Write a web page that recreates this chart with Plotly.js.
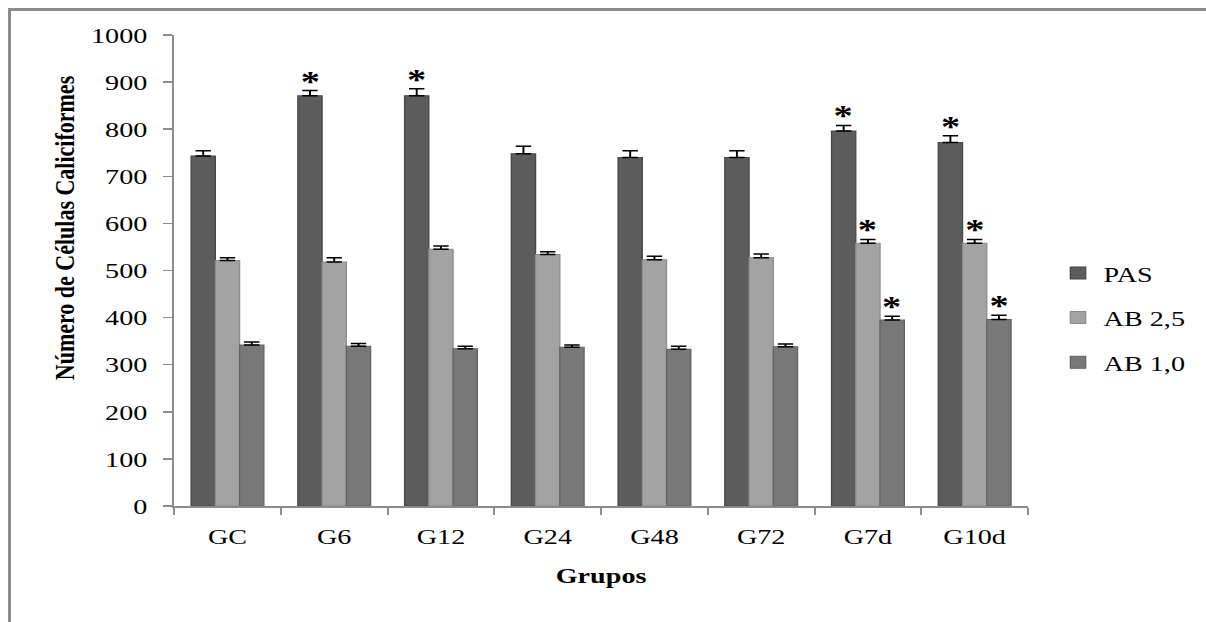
<!DOCTYPE html>
<html>
<head>
<meta charset="utf-8">
<script src="https://cdn.plot.ly/plotly-3.0.1.min.js"></script>
<style>
  html, body { margin: 0; padding: 0; background: #ffffff; overflow: hidden; }
  #wrap { position: relative; width: 1206px; height: 622px; overflow: hidden; background: #ffffff; }
  #chart { position: absolute; left: 0; top: 0; width: 942px; height: 622px; transform: scaleX(1.28025); transform-origin: 0 0; }
  #frame { position: absolute; left: 8px; top: 8px; width: 1200px; height: 620px; border-top: 3px solid #8c8c8c; border-left: 3px solid #8c8c8c; pointer-events: none; }
</style>
</head>
<body>
<div id="wrap">
  <div id="chart"></div>
  <div id="frame"></div>
</div>
<script>
// ---- data ----
const groups   = ["GC", "G6", "G12", "G24", "G48", "G72", "G7d", "G10d"];
const seriesNames = ["PAS", "AB 2,5", "AB 1,0"];
const pas      = [743, 871, 871, 748, 740, 740, 796, 772];
const pasErr   = [11, 11, 15, 16, 14, 14, 12, 14];
const ab25     = [521, 518, 545, 534, 523, 527, 558, 558];
const ab25Err  = [6, 9, 7, 6, 7, 8, 8, 8];
const ab10     = [342, 339, 334, 337, 333, 338, 395, 396];
const ab10Err  = [6, 6, 5, 5, 6, 6, 8, 9];
const pasSig   = [false, true, true, false, false, false, true, true];
const ab25Sig  = [false, false, false, false, false, false, true, true];
const ab10Sig  = [false, false, false, false, false, false, true, true];
const yTicks   = [0, 100, 200, 300, 400, 500, 600, 700, 800, 900, 1000];

const FONT = "Liberation Serif, Times New Roman, serif";
const colors = ["#5c5c5c", "#a3a3a3", "#787878"];
const lineColors = ["#474747", "#8c8c8c", "#636363"];
const values = [pas, ab25, ab10];
const errs = [pasErr, ab25Err, ab10Err];
const sigs = [pasSig, ab25Sig, ab10Sig];

const bargap = 0.318;
const barW = (1 - bargap) / 3;

const traces = values.map((v, i) => ({
  type: "bar",
  name: seriesNames[i],
  x: groups,
  y: v,
  legendgroup: "g" + i,
  marker: { color: colors[i], line: { color: lineColors[i], width: 1 } },
  error_y: {
    type: "data", array: errs[i], arrayminus: errs[i].map(() => 0),
    symmetric: false, color: "#000000", thickness: 1.5, width: 6
  },
  hoverinfo: "skip"
}));

const annotations = [];
sigs.forEach((s, i) => {
  s.forEach((flag, j) => {
    if (flag) {
      annotations.push({
        x: j + (i - 1) * barW, y: values[i][j] + errs[i][j],
        xref: "x", yref: "y", text: "*", showarrow: false,
        xanchor: "center", yanchor: "bottom", yshift: -8,
        font: { family: FONT, size: 30, color: "#000000", weight: "bold" }
      });
    }
  });
});
annotations.push({
  x: -0.1287, y: 0.59, xref: "paper", yref: "paper",
  text: "<b>Número de Células Caliciformes</b>", textangle: -90,
  showarrow: false, xanchor: "center", yanchor: "middle",
  font: { family: FONT, size: 22, color: "#000000" }
});

const layout = {
  width: 942, height: 622,
  margin: { l: 136, r: 138, t: 35, b: 116 },
  paper_bgcolor: "#ffffff", plot_bgcolor: "#ffffff",
  barmode: "group", bargap: bargap, bargroupgap: 0,
  font: { family: FONT, size: 22, color: "#000000" },
  showlegend: true,
  legend: {
    x: 1.027, y: 0.3998, xanchor: "left", yanchor: "middle",
    traceorder: "grouped", tracegroupgap: 13,
    font: { family: FONT, size: 22, color: "#000000" },
    bgcolor: "rgba(0,0,0,0)"
  },
  xaxis: {
    type: "category",
    showline: true, linecolor: "#8c8c8c", linewidth: 1.5,
    ticks: "outside", tickson: "boundaries", ticklen: 7, tickcolor: "#8c8c8c", tickwidth: 1.5,
    showgrid: false, zeroline: false,
    tickfont: { family: FONT, size: 22, color: "#000000" },
    ticklabelstandoff: 10,
    title: { text: "<b>Grupos</b>", font: { family: FONT, size: 22, color: "#000000" }, standoff: 19 }
  },
  yaxis: {
    range: [0, 1000], tickvals: yTicks, ticktext: yTicks.map(String),
    showline: true, linecolor: "#8c8c8c", linewidth: 1.5,
    ticks: "outside", ticklen: 7, tickcolor: "#8c8c8c", tickwidth: 1.5,
    showgrid: false, zeroline: false,
    tickfont: { family: FONT, size: 22, color: "#000000" },
    ticklabelstandoff: 8
  },
  annotations: annotations
};

Plotly.newPlot("chart", traces, layout, { displayModeBar: false, staticPlot: true });
</script>
</body>
</html>
